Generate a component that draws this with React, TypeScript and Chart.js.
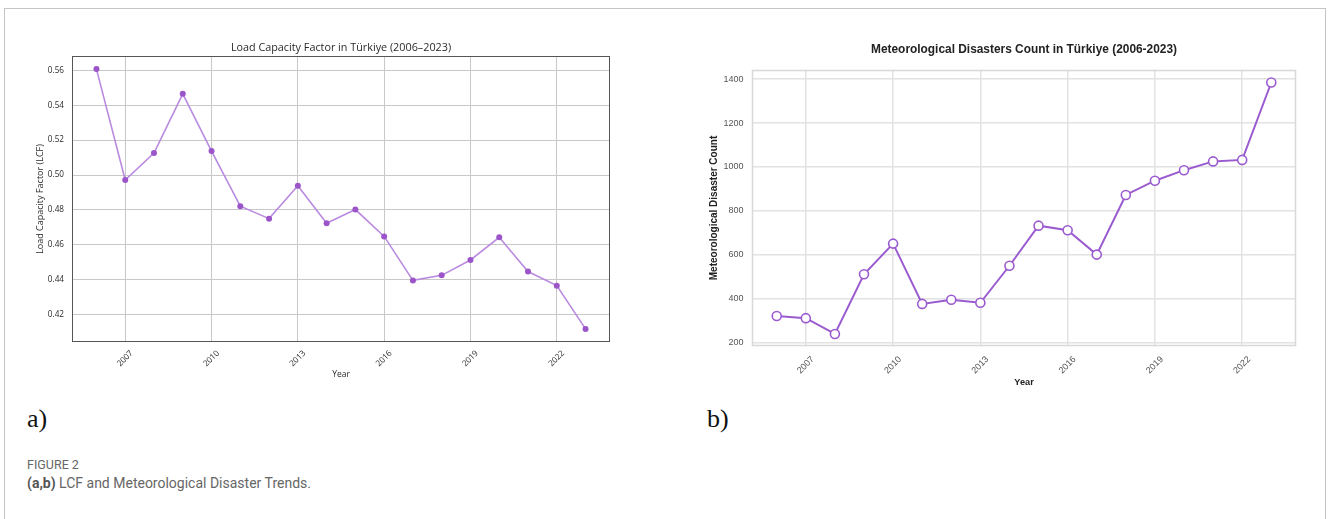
import React, { useEffect, useRef } from "react";
import { Chart, registerables } from "chart.js";

Chart.register(...registerables);

// ---------- data ----------
const years = [2006, 2007, 2008, 2009, 2010, 2011, 2012, 2013, 2014, 2015, 2016, 2017, 2018, 2019, 2020, 2021, 2022, 2023];
const lcfValues = [0.5607, 0.4971, 0.5126, 0.5465, 0.5137, 0.4821, 0.475, 0.4939, 0.4724, 0.4802, 0.4648, 0.4396, 0.4425, 0.4513, 0.4643, 0.4447, 0.4366, 0.4118];
const disasterCounts = [320, 310, 238, 510, 650, 375, 394, 380, 549, 732, 711, 600, 872, 937, 985, 1025, 1032, 1385];
const yearTicks = [2007, 2010, 2013, 2016, 2019, 2022];
const lcfTicks = [0.42, 0.44, 0.46, 0.48, 0.5, 0.52, 0.54, 0.56];
const countTicks = [200, 400, 600, 800, 1000, 1200, 1400];

const lcfTitle = "Load Capacity Factor in Türkiye (2006–2023)";
const lcfAxisTitle = "Load Capacity Factor (LCF)";
const countTitle = "Meteorological Disasters Count in Türkiye (2006-2023)";
const countAxisTitle = "Meteorological Disaster Count";
const xAxisTitle = "Year";

function framePlugin(color: string, width: number) {
  return {
    id: "frame",
    beforeDatasetsDraw(chart: any) {
      const { ctx, chartArea } = chart;
      const { left, top, right, bottom } = chartArea;
      ctx.save();
      ctx.strokeStyle = color;
      ctx.lineWidth = width;
      ctx.strokeRect(Math.round(left) + 0.5, Math.round(top) + 0.5, Math.round(right - left) - 1, Math.round(bottom - top) - 1);
      ctx.restore();
    },
  };
}

function makeTicks(values: number[]) {
  return (scale: any) => {
    scale.ticks = values.map((v) => ({ value: v }));
  };
}

function LcfChart() {
  const ref = useRef<HTMLCanvasElement | null>(null);
  useEffect(() => {
    if (!ref.current) return;
    const font = "'Open Sans', 'DejaVu Sans', sans-serif";
    const chart = new Chart(ref.current, {
      type: "line",
      data: {
        datasets: [
          {
            data: years.map((y, i) => ({ x: y, y: lcfValues[i] })),
            borderColor: "#b98ae0",
            borderWidth: 1.6,
            pointRadius: 3,
            pointBackgroundColor: "#9b55c9",
            pointBorderColor: "#9b55c9",
            pointBorderWidth: 0,
            tension: 0,
          },
        ],
      },
      options: {
        animation: false,
        responsive: false,
        events: [],
        layout: { padding: { left: 0, right: 30, top: 0, bottom: 8 } },
        plugins: {
          legend: { display: false },
          tooltip: { enabled: false },
          title: {
            display: true,
            text: lcfTitle,
            fullSize: false,
            color: "#2a2a2a",
            font: { family: font, size: 10.8, weight: "normal" },
            padding: { top: 11.0, bottom: 2.04 },
          },
        },
        scales: {
          x: {
            type: "linear",
            min: 2005.15,
            max: 2023.85,
            afterBuildTicks: makeTicks(yearTicks),
            afterFit: (s: any) => {
              s.height = 40;
            },
            grid: { color: "#c8c8c8", lineWidth: 1, drawTicks: false },
            border: { display: false },
            ticks: {
              autoSkip: false,
              minRotation: 45,
              maxRotation: 45,
              padding: 6.5,
              labelOffset: 6.5,
              color: "#2a2a2a",
              font: { family: font, size: 8.2 },
              callback: (v: any) => String(v),
            },
            title: {
              display: true,
              text: xAxisTitle,
              color: "#2a2a2a",
              font: { family: font, size: 8.5 },
              padding: { top: 0, bottom: 1.9 },
            },
          },
          y: {
            type: "linear",
            min: 0.4043,
            max: 0.5682,
            afterBuildTicks: makeTicks(lcfTicks),
            afterFit: (s: any) => {
              s.width = 52;
            },
            grid: { color: "#c8c8c8", lineWidth: 1, drawTicks: false },
            border: { display: false },
            ticks: {
              padding: 8,
              color: "#2a2a2a",
              font: { family: font, size: 8.2 },
              callback: (v: any) => Number(v).toFixed(2),
            },
            title: {
              display: true,
              text: lcfAxisTitle,
              color: "#2a2a2a",
              font: { family: font, size: 9 },
              padding: { top: 14.6, bottom: 0 },
            },
          },
        },
      },
      plugins: [framePlugin("#555555", 1)],
    } as any);
    return () => chart.destroy();
  }, []);
  return (
    <canvas
      ref={ref}
      width={620}
      height={360}
      style={{ position: "absolute", left: 20, top: 30, width: 620, height: 360 }}
    />
  );
}

function CountChart() {
  const ref = useRef<HTMLCanvasElement | null>(null);
  useEffect(() => {
    if (!ref.current) return;
    const font = "'Liberation Sans', Arial, sans-serif";
    const purple = "#9b5bd0";
    const chart = new Chart(ref.current, {
      type: "line",
      data: {
        datasets: [
          {
            data: years.map((y, i) => ({ x: y, y: disasterCounts[i] })),
            borderColor: purple,
            borderWidth: 2,
            pointRadius: 4.5,
            pointBackgroundColor: "#ffffff",
            pointBorderColor: purple,
            pointBorderWidth: 1.6,
            tension: 0,
          },
        ],
      },
      options: {
        animation: false,
        responsive: false,
        events: [],
        layout: { padding: { left: 0, right: 24, top: 0, bottom: 5 } },
        plugins: {
          legend: { display: false },
          tooltip: { enabled: false },
          title: {
            display: true,
            text: countTitle,
            fullSize: false,
            color: "#222",
            font: { family: font, size: 11.9, weight: "bold" },
            padding: { top: 12.36, bottom: 13.36 },
          },
        },
        scales: {
          x: {
            type: "linear",
            min: 2005.15,
            max: 2023.85,
            afterBuildTicks: makeTicks(yearTicks),
            afterFit: (s: any) => {
              s.height = 44;
            },
            grid: { color: "#e2e2e2", lineWidth: 1.5, drawTicks: false },
            border: { display: false },
            ticks: {
              autoSkip: false,
              minRotation: 45,
              maxRotation: 45,
              padding: 8.2,
              labelOffset: 7,
              color: "#555",
              font: { family: font, size: 9 },
              callback: (v: any) => String(v),
            },
            title: {
              display: true,
              text: xAxisTitle,
              color: "#222",
              font: { family: font, size: 9.2, weight: "bold" },
              padding: { top: 0, bottom: 2.48 },
            },
          },
          y: {
            type: "linear",
            min: 183,
            max: 1442,
            afterBuildTicks: makeTicks(countTicks),
            afterFit: (s: any) => {
              s.width = 92;
            },
            grid: { color: "#e2e2e2", lineWidth: 1.5, drawTicks: false },
            border: { display: false },
            ticks: {
              padding: 8.5,
              color: "#555",
              font: { family: font, size: 9 },
              callback: (v: any) => String(v),
            },
            title: {
              display: true,
              text: countAxisTitle,
              color: "#222",
              font: { family: font, size: 10, weight: "bold" },
              padding: { top: 48, bottom: 0 },
            },
          },
        },
      },
      plugins: [framePlugin("#d8d8d8", 1.5)],
    } as any);
    return () => chart.destroy();
  }, []);
  return (
    <canvas
      ref={ref}
      width={660}
      height={365}
      style={{ position: "absolute", left: 660, top: 30, width: 660, height: 365 }}
    />
  );
}

export default function App() {
  const capFont = "Roboto, 'Open Sans', sans-serif";
  return (
    <div
      style={{
        position: "absolute",
        left: 0,
        top: 0,
        width: 1328,
        height: 519,
        overflow: "hidden",
        background: "#ffffff",
      }}
    >
      <div
        style={{
          position: "absolute",
          left: 4,
          top: 8,
          width: 1322,
          height: 530,
          border: "1px solid #c4c4c4",
          boxSizing: "border-box",
        }}
      />
      <LcfChart />
      <CountChart />
      <div
        style={{
          position: "absolute",
          left: 27,
          top: 406,
          fontFamily: "'Liberation Serif', 'Times New Roman', serif",
          fontSize: 26,
          lineHeight: "26px",
          color: "#111",
        }}
      >
        a)
      </div>
      <div
        style={{
          position: "absolute",
          left: 707,
          top: 406,
          fontFamily: "'Liberation Serif', 'Times New Roman', serif",
          fontSize: 26,
          lineHeight: "26px",
          color: "#111",
        }}
      >
        b)
      </div>
      <div
        style={{
          position: "absolute",
          left: 27,
          top: 457,
          fontFamily: capFont,
          fontSize: 12.5,
          lineHeight: "16px",
          color: "#666",
        }}
      >
        FIGURE 2
      </div>
      <div
        style={{
          position: "absolute",
          left: 27,
          top: 474,
          fontFamily: capFont,
          fontSize: 14,
          lineHeight: "18px",
          color: "#666",
          whiteSpace: "nowrap",
        }}
      >
        <span style={{ fontWeight: "bold", color: "#555" }}>(a,b)</span> LCF and Meteorological Disaster Trends.
      </div>
    </div>
  );
}
